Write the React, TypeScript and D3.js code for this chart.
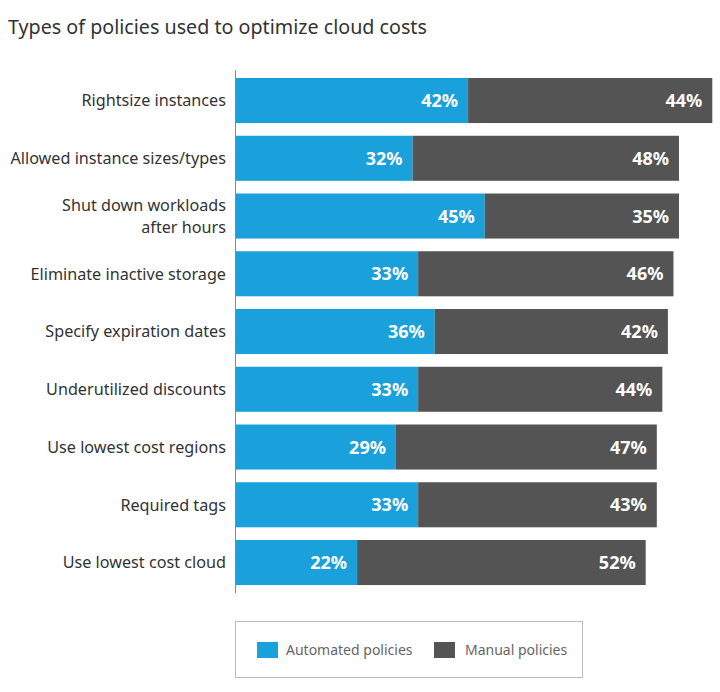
import React from "react";
import * as d3 from "d3";

const categories = [
  ["Rightsize instances"],
  ["Allowed instance sizes/types"],
  ["Shut down workloads", "after hours"],
  ["Eliminate inactive storage"],
  ["Specify expiration dates"],
  ["Underutilized discounts"],
  ["Use lowest cost regions"],
  ["Required tags"],
  ["Use lowest cost cloud"],
];
const automated = [42, 32, 45, 33, 36, 33, 29, 33, 22];
const manual = [44, 48, 35, 46, 42, 44, 47, 43, 52];
const seriesNames = ["Automated policies", "Manual policies"];
const colors = ["#1aa0db", "#545454"];

const W = 720;
const H = 692;
const FONT = "'Noto Sans', sans-serif";

export default function App() {
  const x = d3.scaleLinear().domain([0, 100]).range([235, 235 + 555]);
  const y = d3
    .scaleBand<number>()
    .domain(d3.range(categories.length))
    .range([71.65, 71.65 + 57.75 * categories.length])
    .paddingInner(0.22)
    .paddingOuter(0.11);
  const bh = y.bandwidth();

  return (
    <svg
      width={W}
      height={H}
      style={{ position: "absolute", left: 0, top: 0, background: "#fff" }}
      fontFamily={FONT}
    >
      <text x={8} y={34} fontSize={19.7} fill="#333">
        Types of policies used to optimize cloud costs
      </text>
      {categories.map((lines, i) => {
        const yc = (y(i) as number) + bh / 2;
        const a = automated[i];
        const m = manual[i];
        return (
          <g key={i}>
            <rect x={x(0)} y={y(i)} width={x(a) - x(0)} height={bh} fill={colors[0]} />
            <rect x={x(a)} y={y(i)} width={x(a + m) - x(a)} height={bh} fill={colors[1]} />
            <text
              x={x(a) - 10}
              y={yc}
              dy="0.36em"
              textAnchor="end"
              fill="#fff"
              fontWeight="bold"
              fontSize={18}
            >
              {a}%
            </text>
            <text
              x={x(a + m) - 10}
              y={yc}
              dy="0.36em"
              textAnchor="end"
              fill="#fff"
              fontWeight="bold"
              fontSize={18}
            >
              {m}%
            </text>
            {lines.map((ln, j) => (
              <text
                key={j}
                x={226}
                y={yc + (j - (lines.length - 1) / 2) * 22}
                dy="0.36em"
                textAnchor="end"
                fill="#333"
                fontSize={16.2}
              >
                {ln}
              </text>
            ))}
          </g>
        );
      })}
      <line x1={235.5} x2={235.5} y1={70} y2={593} stroke="#888" strokeWidth={1} />
      <rect x={235.5} y={621.5} width={347} height={56} fill="none" stroke="#bbb" strokeWidth={1} />
      <rect x={257} y={642} width={21} height={16} fill={colors[0]} />
      <text x={286} y={650} dy="0.35em" fontSize={14} fill="#666">
        {seriesNames[0]}
      </text>
      <rect x={434} y={642} width={21} height={16} fill={colors[1]} />
      <text x={465} y={650} dy="0.35em" fontSize={14} fill="#666">
        {seriesNames[1]}
      </text>
    </svg>
  );
}
